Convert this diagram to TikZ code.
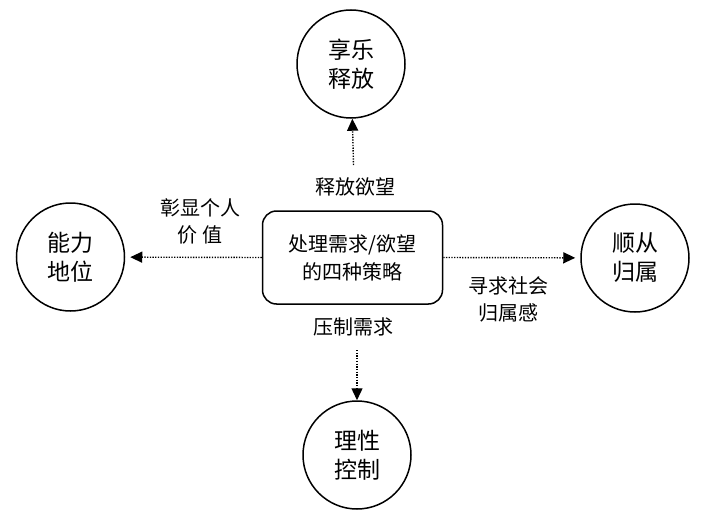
\documentclass[tikz,border=0pt]{standalone}
\usepackage{fontspec}
\newfontfamily\cjk{Noto Sans CJK SC}
\usetikzlibrary{arrows.meta}

\begin{document}
\begin{tikzpicture}[x=1pt, y=-1pt,
        circ/.style={draw, circle, line width=1.5pt, minimum size=108pt, inner sep=0pt, align=center, font=\cjk\fontsize{23}{29}\selectfont},
        strat/.style={draw, rounded corners=14pt, line width=1.5pt, minimum width=180pt, minimum height=93pt, align=center, font=\cjk\fontsize{20}{28}\selectfont},
        lbl/.style={inner sep=0pt, align=center, font=\cjk\fontsize{20}{27}\selectfont},
        arr/.style={black, line width=1.4pt, dash pattern=on 1.3pt off 1.4pt, -{Triangle[length=12pt, width=11pt]}}]
        \useasboundingbox (0, 0) rectangle (706, 524);

        \node [strat] at (352.5, 257.5) (box) {处理需求/欲望\\的四种策略};
        \node [circ] at (351, 64) (up) {享乐\\释放};
        \node [circ] at (70.5, 257) (left) {能力\\地位};
        \node [circ] at (635, 258) (right) {顺从\\归属};
        \node [circ] at (357, 455) (down) {理性\\控制};

        \node [lbl] at (355, 187) (lup) {释放欲望};
        \node [lbl] at (353, 327) (ldown) {压制需求};
        \node [lbl] at (200, 221.5) (lleft) {彰显个人\\价 值};
        \node [lbl] at (508, 299) (lright) {寻求社会\\归属感};

        \coordinate (upstart) at (353.5, 165);
        \coordinate (downstart) at (357, 350);

        \draw [arr] (upstart) -- (up);
        \draw [arr] (downstart) -- (down);
        \draw [arr, shorten >=5pt] (box.west) -- (left);
        \draw [arr, shorten >=5pt] (box.east) -- (right);
        \end{tikzpicture}
\end{document}
